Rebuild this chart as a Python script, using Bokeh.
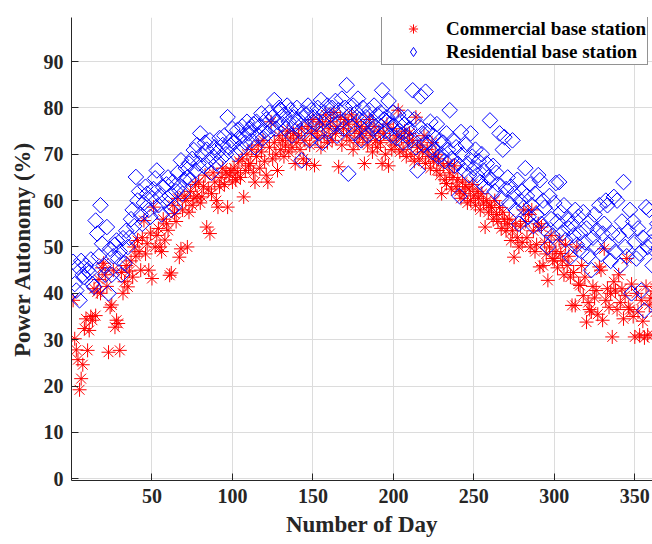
import numpy as np
from bokeh.plotting import figure
from bokeh.models import Legend, LegendItem, Range1d, FixedTicker
from bokeh.embed import file_html
from bokeh.resources import INLINE

days = list(range(1, 366))

commercial = [
    38.5, 30.2, 27.8, 25.7, 19.2, 21.6, 24.6, 32.4, 34.5, 27.7,
    32.0, 35.0, 34.2, 41.0, 35.2, 40.3, 43.0, 40.0, 45.5, 46.5,
    44.0, 41.5, 27.3, 37.0, 37.5, 45.0, 32.7, 34.2, 33.5, 27.7,
    44.5, 40.0, 42.5, 46.0, 41.4, 44.8, 47.0, 43.5, 50.0, 48.0,
    51.4, 49.0, 45.0, 52.0, 55.7, 48.5, 50.7, 45.0, 53.0, 43.2,
    58.6, 50.0, 52.5, 54.0, 50.0, 49.0, 56.0, 51.5, 55.0, 53.6,
    43.9, 44.4, 59.0, 57.2, 55.5, 60.5, 47.8, 49.6, 58.0, 61.0,
    60.0, 50.0, 57.5, 62.0, 59.0, 60.5, 63.5, 61.0, 64.0, 59.5,
    60.8, 63.0, 65.5, 54.3, 62.5, 52.9, 61.5, 66.0, 64.0, 60.0,
    58.6, 63.0, 65.0, 67.0, 63.5, 66.0, 58.6, 65.5, 66.5, 64.0,
    67.0, 64.5, 66.0, 68.5, 65.0, 69.0, 60.8, 66.5, 70.0, 67.5,
    68.0, 71.0, 66.0, 64.0, 69.5, 72.0, 67.0, 70.5, 73.0, 68.5,
    65.5, 64.0, 71.5, 77.0, 69.0, 72.5, 70.0, 66.5, 74.0, 71.0,
    73.0, 69.5, 72.0, 75.0, 70.5, 73.5, 71.5, 74.5, 68.0, 72.5,
    74.0, 71.0, 75.5, 69.0, 73.0, 68.0, 76.0, 72.0, 74.5, 77.5,
    67.6, 75.0, 73.5, 77.0, 71.5, 76.5, 74.0, 78.5, 72.5, 75.5,
    77.0, 73.0, 79.0, 74.5, 76.0, 67.3, 78.0, 72.0, 75.5, 77.5,
    74.0, 76.5, 73.0, 78.5, 71.0, 75.0, 77.0, 72.5, 74.5, 76.0,
    73.5, 68.0, 75.5, 72.0, 77.5, 74.0, 70.5, 76.0, 73.0, 71.5,
    75.0, 72.5, 68.0, 74.5, 70.0, 76.5, 67.5, 73.0, 71.0, 75.5,
    72.0, 74.0, 79.5, 70.5, 73.5, 71.0, 75.0, 69.5, 72.5, 74.5,
    70.0, 73.0, 68.5, 78.0, 71.5, 69.0, 72.0, 70.5, 74.0, 68.0,
    71.0, 69.5, 67.0, 72.5, 68.5, 70.0, 66.5, 69.0, 65.5, 61.5,
    67.5, 64.5, 63.7, 68.0, 66.0, 62.5, 65.0, 67.5, 63.0, 64.5,
    62.0, 60.5, 64.0, 61.5, 63.0, 59.5, 62.5, 60.0, 63.5, 61.0,
    59.0, 62.0, 60.5, 58.0, 61.5, 59.5, 54.3, 60.0, 57.5, 59.0,
    58.5, 56.0, 60.0, 57.0, 55.5, 58.5, 54.0, 57.5, 56.0, 53.5,
    55.0, 56.0, 51.4, 53.5, 47.8, 55.0, 52.0, 50.0, 54.5, 51.0,
    58.0, 55.5, 52.0, 57.0, 50.0, 58.0, 53.5, 49.0, 50.5, 55.0,
    45.7, 54.3, 46.0, 51.0, 48.5, 42.8, 50.0, 52.5, 47.5, 47.0,
    49.0, 45.5, 51.5, 48.6, 47.0, 44.0, 50.5, 46.0, 48.0, 43.5,
    37.4, 44.5, 37.4, 50.0, 42.0, 41.7, 46.0, 39.5, 43.5, 33.8,
    38.0, 36.5, 36.0, 41.5, 39.0, 40.6, 35.5, 45.7, 45.0, 34.2,
    49.6, 38.5, 41.0, 37.0, 40.0, 30.6, 42.5, 40.5, 36.5, 44.0,
    38.0, 41.0, 34.5, 39.5, 47.5, 37.0, 36.5, 42.0, 35.0, 30.6,
    40.0, 36.0, 31.0, 38.5, 34.0, 30.4, 41.5, 31.0, 37.5, 39.0,
    31.0, 40.5, 36.0, 42.0, 38.0,
]

residential = [
    46.8, 42.0, 40.6, 45.7, 38.5, 47.0, 44.0, 43.5, 46.0, 45.0,
    44.5, 47.3, 42.0, 41.4, 55.7, 52.9, 48.0, 59.0, 50.7, 46.0,
    44.0, 54.3, 40.0, 49.6, 44.0, 48.0, 50.5, 51.4, 47.5, 49.0,
    44.0, 51.9, 46.5, 53.5, 50.0, 52.0, 56.0, 58.0, 54.5, 65.1,
    60.0, 62.0, 57.0, 55.0, 59.5, 63.0, 61.5, 58.0, 56.5, 60.5,
    62.5, 64.8, 66.5, 59.0, 61.0, 57.0, 62.9, 60.0, 63.5, 65.0,
    61.0, 58.0, 64.0, 58.6, 62.0, 66.0, 63.0, 68.7, 61.5, 64.5,
    67.0, 65.0, 68.0, 64.5, 69.0, 70.9, 66.5, 72.0, 68.0, 74.5,
    70.0, 67.5, 72.5, 71.0, 68.5, 73.0, 66.0, 69.5, 71.5, 68.0,
    70.5, 73.5, 69.0, 72.0, 74.0, 70.0, 78.0, 71.5, 73.0, 75.5,
    72.5, 70.0, 75.2, 73.5, 71.0, 76.0, 74.0, 72.5, 77.0, 74.5,
    75.5, 73.0, 76.5, 71.5, 77.0, 74.0, 76.0, 78.8, 73.5, 75.0,
    77.5, 74.5, 79.0, 76.0, 78.0, 81.7, 75.5, 77.0, 80.0, 79.5,
    76.5, 78.5, 75.5, 80.5, 77.0, 79.5, 74.0, 78.0, 76.5, 80.0,
    77.5, 75.0, 68.7, 79.0, 76.0, 78.5, 80.5, 73.0, 79.5, 77.0,
    78.0, 76.5, 80.0, 74.5, 81.7, 72.5, 79.0, 77.5, 80.5, 75.0,
    78.5, 80.0, 76.5, 81.5, 74.0, 79.5, 77.0, 82.0, 75.5, 80.0,
    84.9, 65.8, 78.5, 76.0, 80.5, 74.5, 79.0, 82.0, 77.5, 73.0,
    80.0, 76.5, 78.0, 74.0, 79.5, 77.0, 75.5, 80.5, 76.0, 78.5,
    74.5, 79.0, 83.8, 77.5, 75.0, 78.0, 81.5, 76.5, 74.0, 79.0,
    76.0, 73.5, 78.5, 75.0, 77.0, 72.5, 76.5, 74.0, 78.0, 75.5,
    73.0, 83.8, 77.5, 71.5, 66.5, 76.0, 82.5, 74.5, 72.0, 83.5,
    75.0, 72.5, 77.0, 70.5, 74.0, 71.0, 76.5, 69.5, 73.0, 70.0,
    72.5, 68.5, 74.5, 71.0, 79.5, 69.0, 73.0, 67.5, 71.5, 68.0,
    61.0, 74.8, 70.0, 66.5, 72.0, 68.0, 65.5, 74.5, 69.5, 67.0,
    71.0, 65.5, 68.5, 64.0, 70.0, 66.5, 63.0, 68.0, 65.0, 77.3,
    64.5, 67.5, 62.0, 66.0, 63.5, 74.5, 60.5, 71.0, 73.7, 62.5,
    65.0, 59.5, 63.0, 73.0, 61.5, 58.0, 64.5, 55.0, 60.0, 62.0,
    58.5, 67.0, 61.0, 56.5, 63.5, 59.0, 54.5, 61.5, 57.0, 65.5,
    64.4, 55.0, 60.0, 58.5, 53.5, 50.0, 61.0, 56.0, 52.5, 59.5,
    63.8, 55.5, 64.0, 57.5, 53.0, 59.0, 51.5, 56.0, 54.0, 47.8,
    55.0, 52.5, 58.0, 50.5, 56.5, 53.0, 49.0, 57.5, 51.0, 54.0,
    48.0, 55.5, 45.0, 52.0, 57.0, 50.0, 53.5, 59.0, 48.5, 52.9,
    55.0, 60.0, 59.0, 50.5, 47.0, 53.0, 60.8, 49.0, 60.0, 52.5,
    46.0, 55.5, 64.0, 50.0, 48.0, 53.5, 58.0, 40.0, 55.5, 51.0,
    47.5, 54.0, 48.6, 40.6, 52.0, 36.3, 58.6, 50.0, 58.0, 51.0,
    46.0, 53.0, 49.0, 55.0, 50.0,
]

x_ticks = [50, 100, 150, 200, 250, 300, 350]
y_ticks = [0, 10, 20, 30, 40, 50, 60, 70, 80, 90]

FONT = "Liberation Serif"
TXT = "#262626"

p = figure(width=652, height=544, output_backend="svg", toolbar_location=None,
           x_range=Range1d(0, 361), y_range=Range1d(-0.37, 99.5),
           min_border_left=71, min_border_right=0, min_border_top=17,
           min_border_bottom=64)
p.outline_line_color = None
p.background_fill_color = "white"

r1 = p.scatter(days, commercial, marker="asterisk", size=14,
               line_color="#ff0000", line_width=1)
r2 = p.scatter(days, residential, marker="square", angle=np.pi / 4, size=11,
               line_color="#0000ff", fill_color=None, line_width=1)
# legend key for the residential series (legend glyphs are never rotated,
# so an un-drawn copy of the series with a diamond marker supplies the key)
r2_key = p.scatter(days, residential, marker="diamond", line_color="#0000ff",
                   fill_color=None, line_width=1, visible=False)

for ax, ticks in ((p.xaxis, x_ticks), (p.yaxis, y_ticks)):
    ax.ticker = FixedTicker(ticks=ticks)
    ax.major_tick_in = 7
    ax.major_tick_out = 0
    ax.minor_tick_in = 0
    ax.minor_tick_out = 0
    ax.axis_line_color = TXT
    ax.major_tick_line_color = TXT
    ax.major_label_text_font = FONT
    ax.major_label_text_font_style = "bold"
    ax.major_label_text_font_size = "20px"
    ax.major_label_text_color = TXT
    ax.axis_label_text_font = FONT
    ax.axis_label_text_font_style = "bold"
    ax.axis_label_text_font_size = "23px"
    ax.axis_label_text_color = TXT

p.xaxis.axis_label = "Number of Day"
p.yaxis.axis_label = "Power Autonomy (%)"
p.xaxis.major_label_standoff = 8
p.yaxis.major_label_standoff = 8
p.xaxis.axis_label_standoff = 6
p.yaxis.axis_label_standoff = 6

p.xgrid.ticker = FixedTicker(ticks=x_ticks)
p.ygrid.ticker = FixedTicker(ticks=y_ticks)
p.grid.grid_line_color = "#dcdcdc"
p.grid.grid_line_width = 1

legend = Legend(items=[LegendItem(label="Commercial base station", renderers=[r1]),
                       LegendItem(label="Residential base station", renderers=[r2_key])],
                location=(310, 415))
legend.glyph_width = 60
legend.glyph_height = 23
legend.label_height = 23
legend.padding = 1
legend.spacing = 0
legend.margin = 0
legend.label_standoff = 3
legend.border_line_color = TXT
legend.border_line_width = 1
legend.background_fill_color = "white"
legend.background_fill_alpha = 1
legend.label_text_font = FONT
legend.label_text_font_style = "bold"
legend.label_text_font_size = "19px"
legend.label_text_color = "black"
p.add_layout(legend)

open("out.html", "w").write(file_html(p, INLINE))
